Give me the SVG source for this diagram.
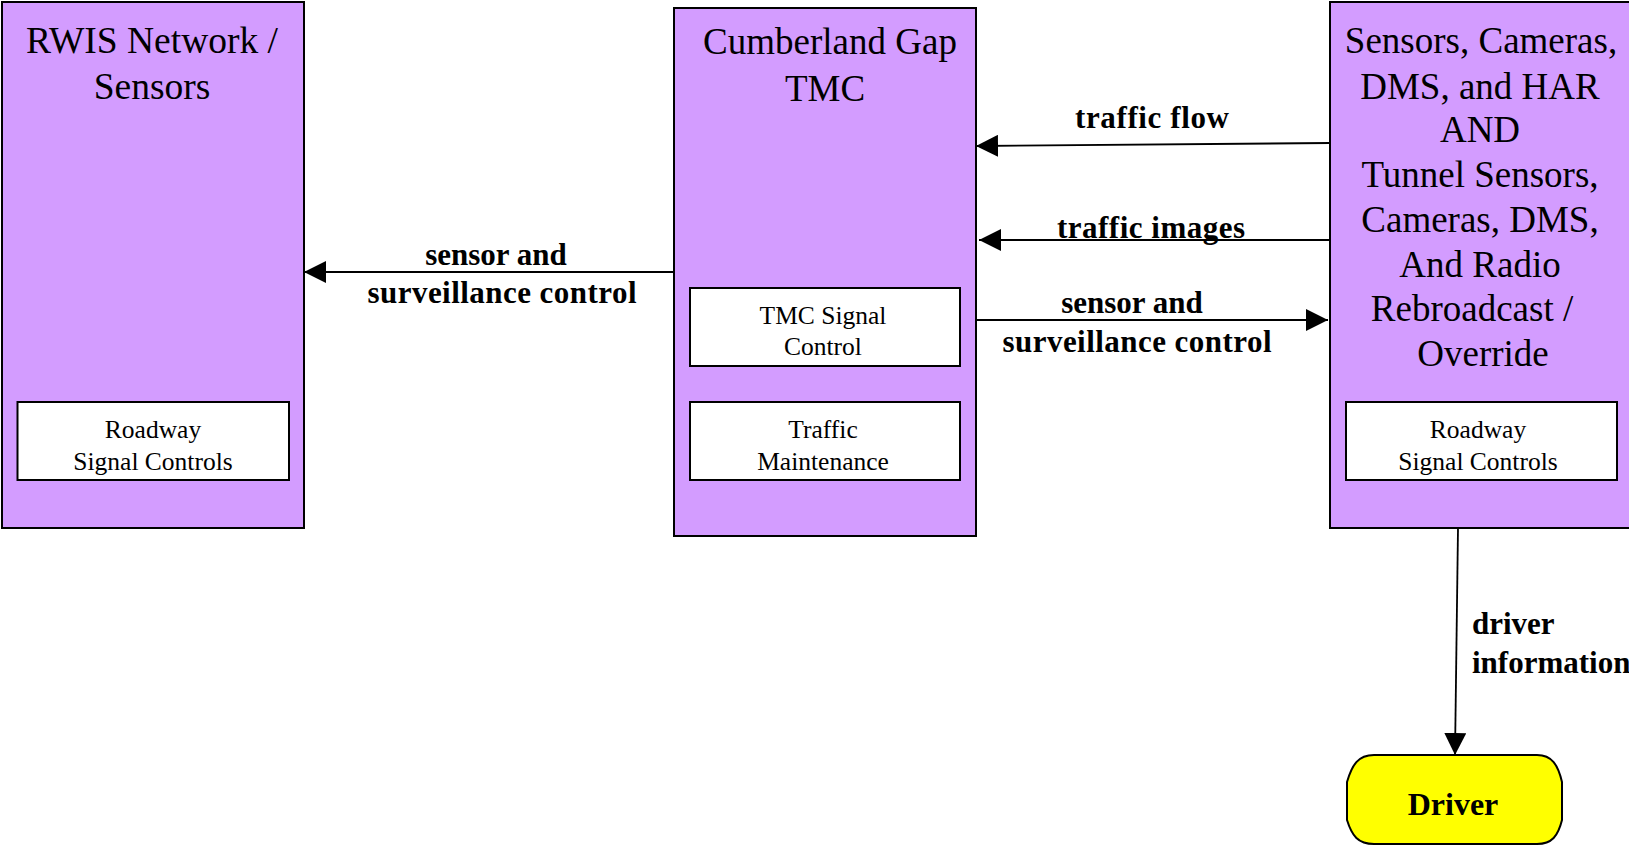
<svg xmlns="http://www.w3.org/2000/svg" width="1629" height="846" viewBox="0 0 1629 846">
<defs>
<style>
.box{fill:#d39cff;stroke:#000;stroke-width:2}
.inner{fill:#fff;stroke:#000;stroke-width:2}
.title{font-family:"Liberation Serif","Times New Roman",serif;font-size:37px;fill:#000;text-anchor:middle}
.sub{font-family:"Liberation Serif","Times New Roman",serif;font-size:25.5px;fill:#000;text-anchor:middle}
.lbl{font-family:"Liberation Serif","Times New Roman",serif;font-size:31px;font-weight:bold;fill:#000;text-anchor:middle}
.conn{stroke:#000;stroke-width:1.8;fill:none;marker-end:url(#arr)}
</style>
<marker id="arr" viewBox="0 0 22 22" refX="22" refY="11" markerWidth="22" markerHeight="22" markerUnits="userSpaceOnUse" orient="auto">
<path d="M0,0 L22,11 L0,22 Z" fill="#000"/>
</marker>
</defs>
<rect width="1629" height="846" fill="#fff"/>

<g id="rwis">
<rect class="box" x="2" y="2" width="302" height="526"/>
<text class="title" x="152" y="53" style="font-size:37.5px">RWIS Network /</text>
<text class="title" x="152" y="99" style="font-size:37.5px">Sensors</text>
<rect class="inner" x="17.5" y="402" width="271.5" height="78"/>
<text class="sub" x="153" y="438">Roadway</text>
<text class="sub" x="153" y="470">Signal Controls</text>
</g>

<g id="tmc">
<rect class="box" x="674" y="8" width="302" height="528"/>
<text class="title" x="830" y="54">Cumberland Gap</text>
<text class="title" x="825" y="101">TMC</text>
<rect class="inner" x="690" y="288" width="270" height="78"/>
<text class="sub" x="823" y="324">TMC Signal</text>
<text class="sub" x="823" y="355">Control</text>
<rect class="inner" x="690" y="402" width="270" height="78"/>
<text class="sub" x="823" y="438">Traffic</text>
<text class="sub" x="823" y="470">Maintenance</text>
</g>

<g id="sensors">
<rect class="box" x="1330" y="2" width="304" height="526"/>
<text class="title" x="1481" y="53">Sensors, Cameras,</text>
<text class="title" x="1480" y="99">DMS, and HAR</text>
<text class="title" x="1480" y="142">AND</text>
<text class="title" x="1480" y="187">Tunnel Sensors,</text>
<text class="title" x="1480" y="232">Cameras, DMS,</text>
<text class="title" x="1480" y="277">And Radio</text>
<text class="title" x="1472" y="321">Rebroadcast /</text>
<text class="title" x="1483" y="366">Override</text>
<rect class="inner" x="1346" y="402" width="271" height="78"/>
<text class="sub" x="1478" y="438">Roadway</text>
<text class="sub" x="1478" y="470">Signal Controls</text>
</g>

<g id="driver">
<path d="M1374,755 H1537 C1552,755 1558,765 1562,782 V820 C1558,836 1552,844 1537,844 H1374 C1358,844 1352,836 1347,820 V782 C1352,765 1358,755 1374,755 Z" fill="#ffff00" stroke="#000" stroke-width="2"/>
<text class="lbl" x="1453" y="815" style="font-size:32px">Driver</text>
</g>

<g id="connectors">
<line class="conn" x1="1330" y1="143" x2="976" y2="146"/>
<line class="conn" x1="1330" y1="240" x2="979" y2="240"/>
<line class="conn" x1="976" y1="320" x2="1328" y2="320"/>
<line class="conn" x1="674" y1="272" x2="304" y2="272"/>
<line class="conn" x1="1458" y1="528" x2="1455" y2="755"/>
<text class="lbl" x="1152" y="128" textLength="154" lengthAdjust="spacing">traffic flow</text>
<text class="lbl" x="1151" y="238" textLength="188" lengthAdjust="spacing">traffic images</text>
<text class="lbl" x="1132" y="313">sensor and</text>
<text class="lbl" x="1137" y="352" textLength="269" lengthAdjust="spacing">surveillance control</text>
<text class="lbl" x="496" y="265">sensor and</text>
<text class="lbl" x="502" y="303" textLength="269" lengthAdjust="spacing">surveillance control</text>
<text class="lbl" x="1472" y="634" style="text-anchor:start">driver</text>
<text class="lbl" x="1472" y="673" style="text-anchor:start">information</text>
</g>
</svg>
